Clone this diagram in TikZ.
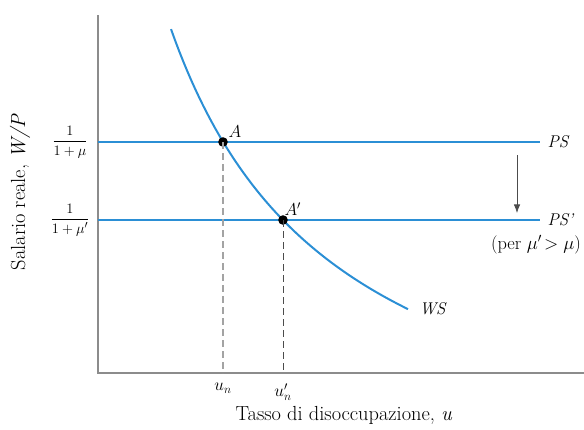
\documentclass[tikz,border=0pt]{standalone}
\usepackage{amsmath}
\usepackage{xcolor}
\usepackage{tikz}
\usetikzlibrary{arrows.meta,positioning}
\definecolor{curveblue}{HTML}{2B8FD5}
\definecolor{axisgray}{HTML}{8C8C8C}
\newcommand{\biglabel}[1]{\scalebox{1.2}{#1}}

\begin{document}
\begin{tikzpicture}[x=1pt, y=-1pt, every node/.style={font=\fontsize{17}{19}\selectfont}]
    \useasboundingbox (0,0) rectangle (584,429);
    % axes
    \coordinate (ytop) at (98,15);
    \coordinate (origin) at (98,373);
    \coordinate (xend) at (584,373);
    \draw[axisgray, line width=1.3pt] (ytop) -- (origin) -- (xend);
    \node[rotate=90] (ylab) at (20,192) {\biglabel{Salario reale, \textit{W/P}}};
    \node (xlab) at (344,415) {\biglabel{Tasso di disoccupazione, \textit{u}}};

    % price setting lines
    \coordinate (psl) at (98,142);
    \coordinate (psr) at (540,142);
    \coordinate (psql) at (98,220);
    \coordinate (psqr) at (540,220);
    \draw[curveblue, line width=2pt] (psl) -- (psr);
    \draw[curveblue, line width=2pt] (psql) -- (psqr);
    \node[font=\fontsize{15}{17}\selectfont] (frac1) at (70,142) {$\dfrac{1}{1+\mu}$};
    \node[font=\fontsize{15}{17}\selectfont] (frac2) at (70,220) {$\dfrac{1}{1+\mu'}$};
    \node[right=4pt of psr] (ps) {\textit{PS}};
    \node[right=4pt of psqr] (psq) {\textit{PS'}};
    \node[inner sep=1pt] (cond) at (536,245) {\scalebox{1.08}{(per $\mu'\!>\mu$)}};

    % wage setting curve
    \coordinate (A) at (223,142);
    \coordinate (Aq) at (283,220);
    \coordinate (wsend) at (408,309);
    \draw[curveblue, line width=2pt] plot[domain=171:408, samples=60] ({\x},{510-817.55/((\x-1)/100)});
    \node[right=8pt of wsend] (ws) {\textit{WS}};

    % equilibria
    \fill (A) circle (4.8pt);
    \fill (Aq) circle (4.8pt);
    \node[above right=1pt and 2pt of A] (alab) {$A$};
    \node[above right=1pt and -2pt of Aq] (aqlab) {$A'$};
    \coordinate (un) at (223,373);
    \coordinate (unq) at (283,373);
    \draw[axisgray!80, line width=1.2pt, dash pattern=on 7pt off 4pt] (A) -- (un);
    \draw[black!70, line width=0.8pt, dash pattern=on 7pt off 4pt] (Aq) -- (unq);
    \node[below=7pt of un] (unlab) {$u_n$};
    \node[below=7pt of unq] (unqlab) {$u'_n$};

    % shift arrow
    \coordinate (shtop) at (517,155);
    \coordinate (shbot) at (517,213);
    \draw[black!70, line width=0.7pt, -{Latex[length=3mm]}] (shtop) -- (shbot);
\end{tikzpicture}
\end{document}
